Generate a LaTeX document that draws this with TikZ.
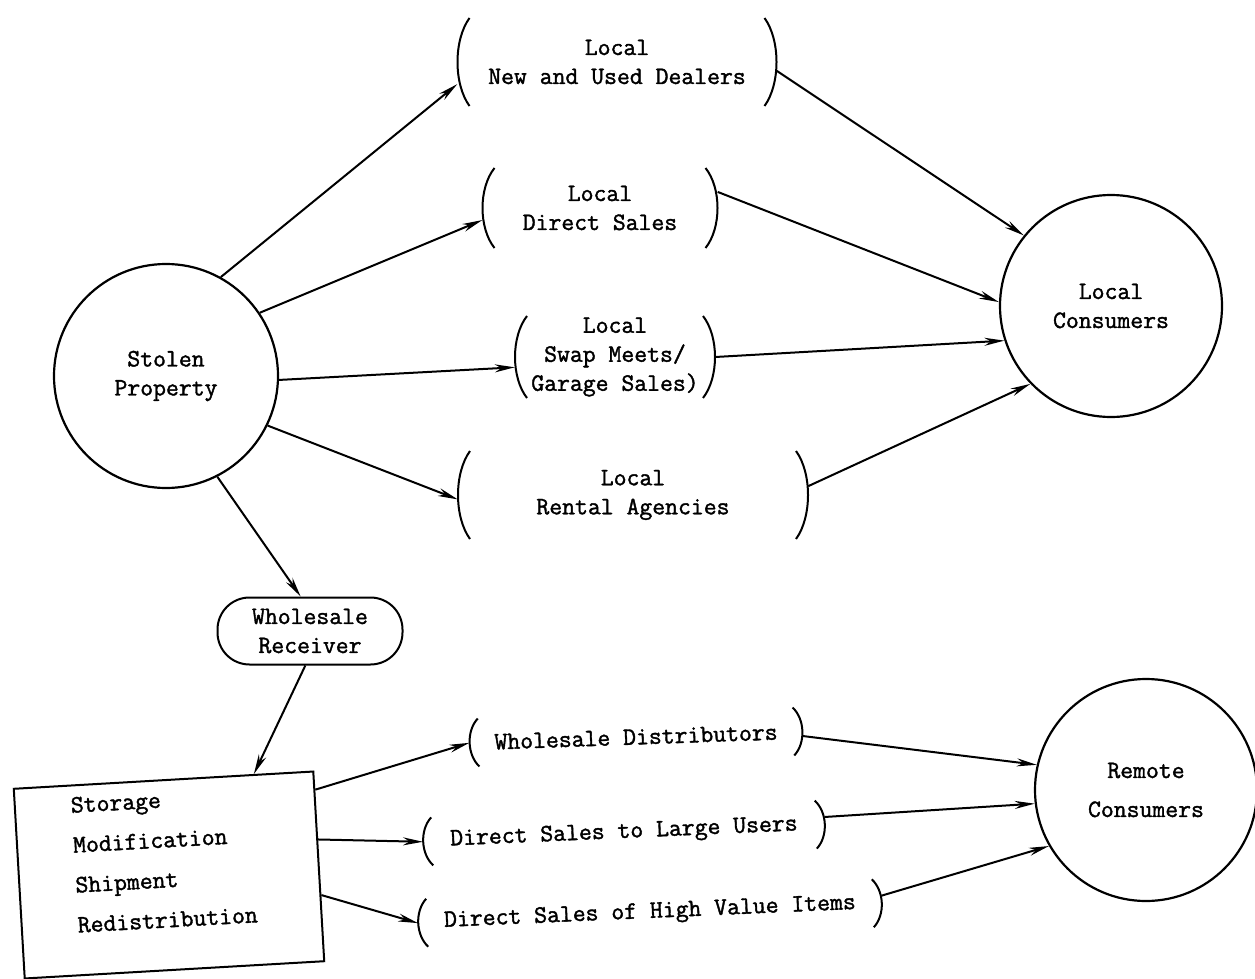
\documentclass[tikz,border=0pt]{standalone}
\usepackage{fontspec}
\setmonofont{Latin Modern Mono}[FakeBold=1.5]
\usetikzlibrary{arrows.meta,calc}
\tikzset{
  every node/.style={font=\ttfamily\fontsize{25}{29}\selectfont},
  circ/.style={circle, draw, line width=2.2pt, minimum size=224pt, align=center, inner sep=0pt},
  pnode/.style={align=center, inner sep=0pt},
  wrbox/.style={draw, line width=2pt, rounded corners=32pt, minimum width=185pt, minimum height=67pt, align=center, inner sep=0pt},
  sbox/.style={draw, line width=2pt, minimum width=300pt, minimum height=190pt, text width=188pt, align=left, inner sep=0pt,
    text depth=151pt, font=\ttfamily\fontsize{25}{40}\selectfont},
  conn/.style={line width=2pt, -{Stealth[length=20pt,width=8pt]}},
  pline/.style={line width=2pt},
}
% parentheses around a node: name, half width, half height, bulge, rotation
\newcommand\prn[5]{%
  \begin{scope}[shift={(#1.center)},rotate=#5]
    \draw[pline] (-#2+#4,-#3) .. controls (-#2-#4/3,-#3/2) and (-#2-#4/3,#3/2) .. (-#2+#4,#3);
    \draw[pline] (#2-#4,-#3) .. controls (#2+#4/3,-#3/2) and (#2+#4/3,#3/2) .. (#2-#4,#3);
  \end{scope}}
\begin{document}
\begin{tikzpicture}[x=1pt,y=-1pt]
\fill[white] (0,0) rectangle (1255,979);
\useasboundingbox (0,0) rectangle (1255,979);

% circles
\node[circ] (SP) at (166,376) {Stolen\\Property};
\node[circ, minimum size=222pt] (LC) at (1111,306) {Local\\Consumers};
\node[circ, minimum size=222pt] (RC) at (1146,790) {Remote\\[10pt]Consumers};

% local outlets
\node[pnode, minimum width=319pt, minimum height=88pt] (DL) at (617,62) {Local\\New and Used Dealers};
\prn{DL}{159.5}{44}{12}{0}
\node[pnode, minimum width=235pt, minimum height=80pt] (DS) at (600,208) {Local\\Direct Sales};
\prn{DS}{117.5}{40}{12}{0}
\node[pnode, minimum width=200pt, minimum height=82pt] (SW) at (615,357) {Local\\Swap Meets/\\Garage Sales)};
\prn{SW}{100}{41}{12}{0}
\node[pnode, minimum width=350pt, minimum height=88pt] (RA) at (633,495) {Local\\Rental Agencies};
\prn{RA}{175}{44}{12}{0}

% wholesale chain
\node[wrbox] (WR) at (310,631) {Wholesale\\Receiver};
\node[sbox, rotate=3.3] (SB) at (169,875) {Storage\\Modification\\Shipment\\Redistribution};

% remote outlets
\node[pnode, rotate=2, minimum width=333pt, minimum height=48pt] (WD) at (636,737) {Wholesale Distributors};
\prn{WD}{166.5}{24}{9}{2}
\node[pnode, rotate=2.5, minimum width=402pt, minimum height=48pt] (LU) at (624,833) {Direct Sales to Large Users};
\prn{LU}{201}{24}{9}{2.5}
\node[pnode, rotate=2.5, minimum width=464pt, minimum height=48pt] (HV) at (650,913) {Direct Sales of High Value Items};
\prn{HV}{232}{24}{9}{2.5}

% connectors
\draw[conn] (SP.61) -- ($(DL.west)!0.5!(DL.south west)$);
\draw[conn] (SP.34) -- ($(DS.west)!0.3!(DS.south west)$);
\draw[conn] (SP.358) -- ($(SW.west)!0.25!(SW.south west)$);
\draw[conn] (SP.334) -- ($(RA.west)!0.1!(RA.south west)$);
\draw[conn] (SP.297) -- ($(WR.north)!0.1!(WR.north west)$);
\draw[conn] ($(DL.east)!0.2!(DL.south east)$) -- (LC.141);
\draw[conn] ($(DS.east)!0.4!(DS.north east)$) -- (LC.178);
\draw[conn] (SW.east) -- (LC.198);
\draw[conn] ($(RA.east)!0.2!(RA.north east)$) -- (LC.224);
\draw[conn] ($(WR.south)!0.05!(WR.south west)$) -- ($(SB.north)!0.6!(SB.north east)$);
\draw[conn] ($(SB.east)!0.8!(SB.north east)$) -- (WD.west);
\draw[conn] ($(SB.east)!0.28!(SB.north east)$) -- (LU.west);
\draw[conn] ($(SB.east)!0.3!(SB.south east)$) -- (HV.west);
\draw[conn] ($(WD.east)!0.2!(WD.south east)$) -- (RC.167);
\draw[conn] ($(LU.east)!0.3!(LU.north east)$) -- (RC.187);
\draw[conn] ($(HV.east)!0.3!(HV.north east)$) -- (RC.210);
\end{tikzpicture}
\end{document}
